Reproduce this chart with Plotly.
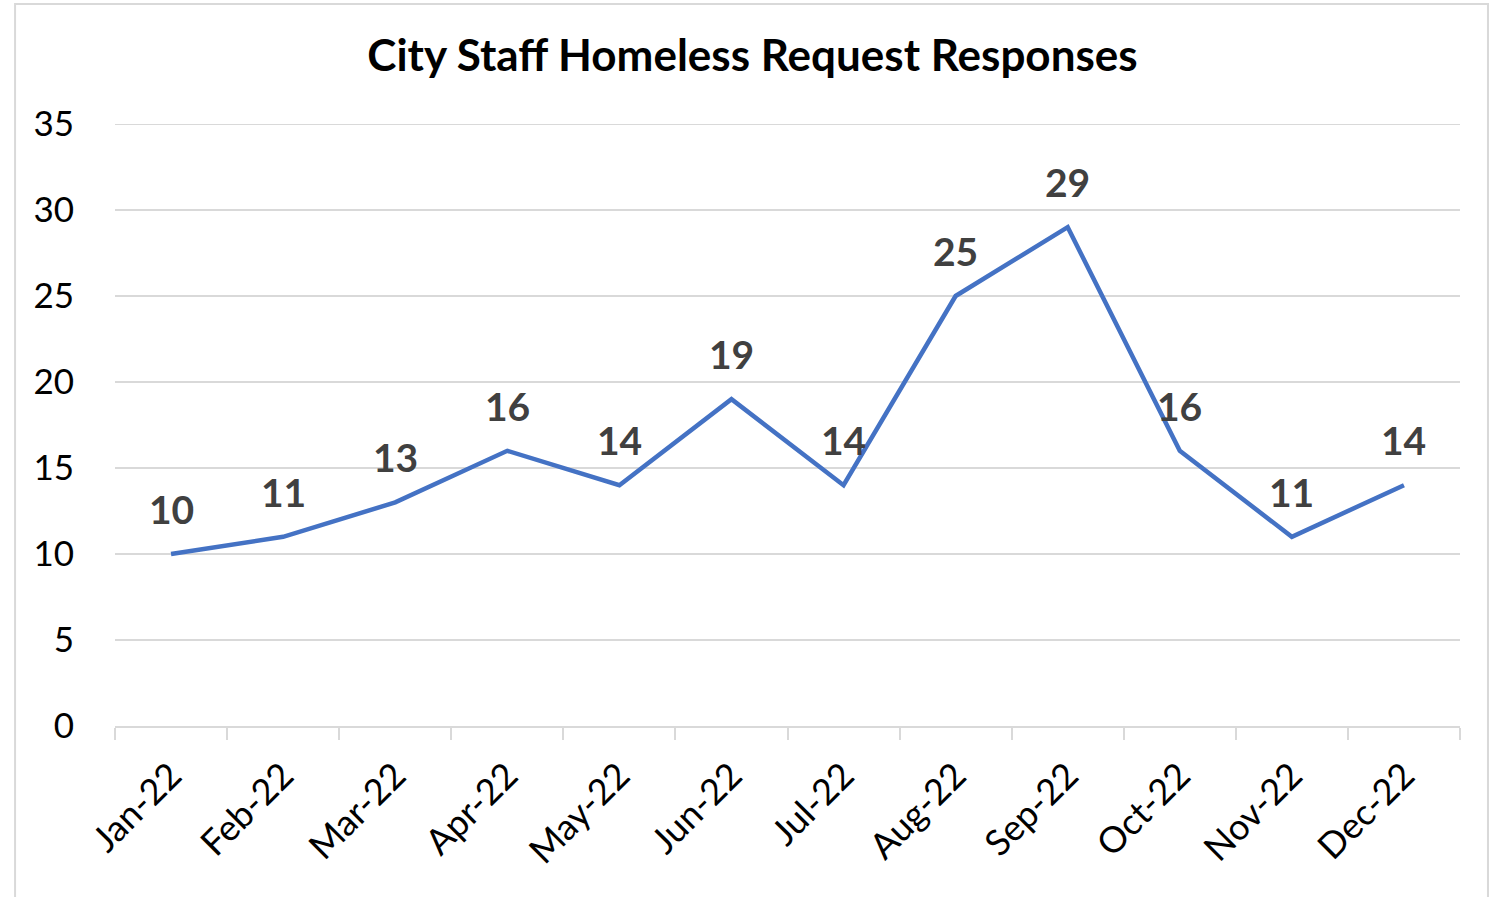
import plotly.graph_objects as go

months = ["Jan-22", "Feb-22", "Mar-22", "Apr-22", "May-22", "Jun-22",
          "Jul-22", "Aug-22", "Sep-22", "Oct-22", "Nov-22", "Dec-22"]
responses = [10, 11, 13, 16, 14, 19, 14, 25, 29, 16, 11, 14]
y_ticks = [0, 5, 10, 15, 20, 25, 30, 35]

FONT = "Lato"
GRID = "#D9D9D9"

fig = go.Figure()
fig.add_trace(go.Scatter(
    x=months, y=responses, mode="lines",
    line=dict(color="#4472C4", width=4.5),
    showlegend=False, hoverinfo="skip",
))

annotations = [
    dict(x=m, y=v, xref="x", yref="y", text=f"<b>{v}</b>", showarrow=False,
         yshift=45, xanchor="center", yanchor="middle",
         font=dict(family=FONT, size=39, color="#404040"))
    for m, v in zip(months, responses)
]

fig.update_layout(
    width=1493, height=897,
    margin=dict(l=115, r=33, t=124, b=171),
    paper_bgcolor="white", plot_bgcolor="white",
    title=dict(text="<b>City Staff Homeless Request Responses</b>",
               x=0.504, xanchor="center", y=0.938, yanchor="middle",
               font=dict(family=FONT, size=44, color="black")),
    font=dict(family=FONT, color="#000000"),
    xaxis=dict(type="category", tickson="boundaries", ticks="outside",
               ticklen=12, tickcolor=GRID, tickwidth=2,
               showline=True, linecolor=GRID, linewidth=2,
               showgrid=False, tickangle=-45,
               tickfont=dict(family=FONT, size=36, color="black"),
               ticklabelstandoff=12, range=[-0.5, 11.5]),
    yaxis=dict(range=[0, 35], tickvals=y_ticks, showgrid=True,
               gridcolor=GRID, gridwidth=2, zeroline=False,
               tickfont=dict(family=FONT, size=35, color="black"),
               ticklabelstandoff=40, showline=False),
    annotations=annotations,
    shapes=[
        dict(type="rect", xref="paper", yref="paper",
             x0=-0.0743, x1=1.0208, y0=-0.35, y1=1.1993,
             line=dict(color=GRID, width=2), fillcolor="rgba(0,0,0,0)",
             layer="below"),
        dict(type="line", xref="paper", yref="y",
             x0=0, x1=1, y0=max(y_ticks), y1=max(y_ticks),
             line=dict(color=GRID, width=2), layer="below"),
    ],
)

fig.write_html("out.html", config={"displayModeBar": False},
               post_script="document.body.style.margin='0';document.body.style.overflow='hidden';")
